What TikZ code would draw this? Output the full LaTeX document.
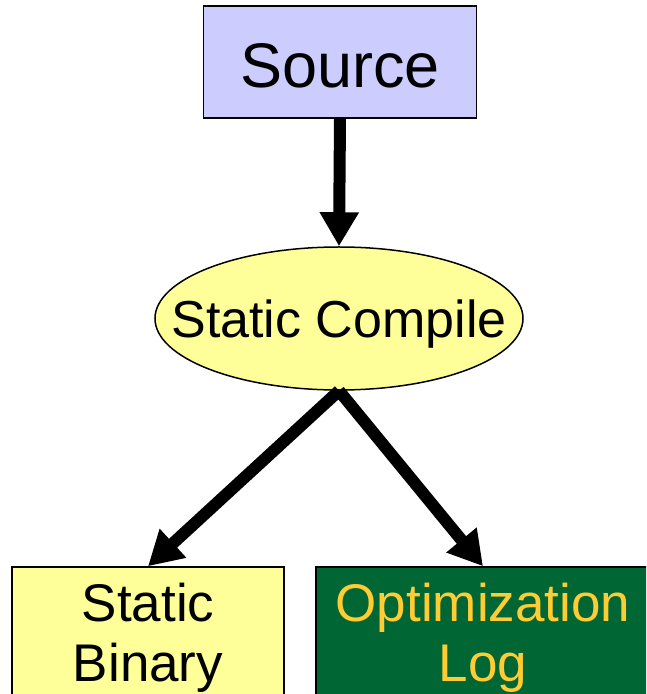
\documentclass[tikz,border=0pt]{standalone}
\usepackage{fontspec}
\setmainfont{Liberation Sans}
\usetikzlibrary{shapes.geometric,arrows.meta}
\definecolor{srcblue}{HTML}{CCCCFF}
\definecolor{paleyellow}{HTML}{FFFF99}
\definecolor{loggreen}{HTML}{006633}
\definecolor{loggold}{HTML}{FFCC33}

\begin{document}
\begin{tikzpicture}
[
 x=1pt, y=1pt,
 inner sep=0mm,
 SRCBOX/.style={rectangle, draw=black, fill=srcblue, line width=1.5pt, minimum width=273pt, minimum height=112pt, text height=52pt, text depth=0pt, font=\fontsize{63}{72}\selectfont},
 COMPELL/.style={ellipse, draw=black, fill=paleyellow, line width=1.5pt, inner xsep=-60pt, minimum width=368pt, minimum height=143pt, text depth=0pt, font=\fontsize{52}{60}\selectfont},
 BINBOX/.style={rectangle, draw=black, fill=paleyellow, line width=1.5pt, minimum width=272pt, minimum height=142pt, align=center, font=\fontsize{53}{60}\selectfont},
 LOGBOX/.style={rectangle, draw=black, fill=loggreen, text=loggold, line width=1.5pt, minimum width=334pt, minimum height=142pt, align=center, font=\fontsize{53}{60}\selectfont},
 FLOW/.style={line width=12pt, -{Triangle[width=37pt,length=34pt]}},
 ]
%
\useasboundingbox (0,0) rectangle (646,694);
\clip (0,0) rectangle (646,694);
%
\node [SRCBOX]   (source)   at (340, 632)    {Source};
\node [COMPELL]  (compile)  at (339, 375.5)  {Static Compile};
\node [BINBOX]   (binary)   at (148, 56)     {Static\\Binary};
\node [LOGBOX]   (optlog)   at (483, 56)     {Optimization\\Log};
%
\draw [FLOW]  (source.south)   -- (compile.north) ;
\draw [FLOW]  (compile.south)  -- (binary.north) ;
\draw [FLOW]  (compile.south)  -- (optlog.north) ;
%
\end{tikzpicture}
\end{document}
